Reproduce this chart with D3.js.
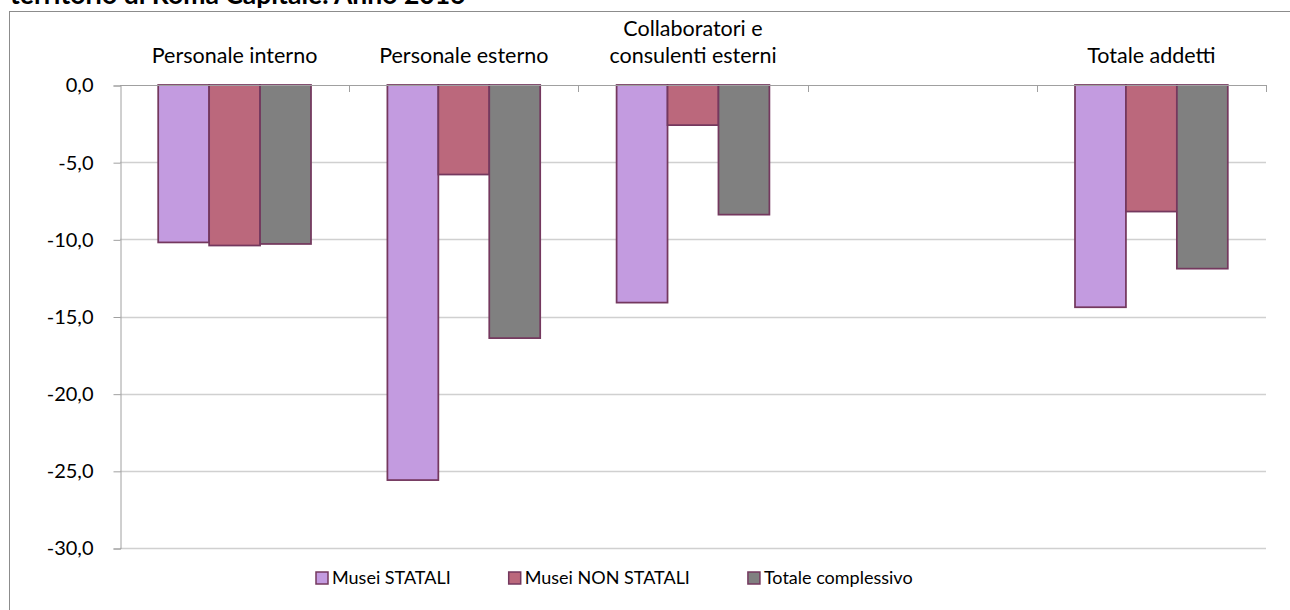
<!DOCTYPE html>
<html>
<head>
<meta charset="utf-8">
<script src="https://cdn.jsdelivr.net/npm/d3@7"></script>
<style>
  body { margin: 0; background: #fff; }
  svg { display: block; font-family: Lato, "Open Sans", sans-serif; }
</style>
</head>
<body>
<svg width="1290" height="610"></svg>
<script>
// dati (variazione % addetti)
var categories = ["Personale interno", "Personale esterno", "Collaboratori e\nconsulenti esterni", "", "Totale addetti"];
var series = ["Musei STATALI", "Musei NON STATALI", "Totale complessivo"];
var statali = [-10.2, -25.6, -14.1, null, -14.4];
var nonStatali = [-10.4, -5.8, -2.6, null, -8.2];
var totale = [-10.3, -16.4, -8.4, null, -11.9];
var yTicks = [0, -5, -10, -15, -20, -25, -30];

var colors = ["#c39be0", "#bb687c", "#808080"];
var strokeCol = "#74385e";
var values = [statali, nonStatali, totale];

var svg = d3.select("svg");

// titolo (tagliato in alto come nell'originale)
svg.append("text")
  .attr("x", 10).attr("y", 4)
  .attr("font-size", 26.5).attr("font-weight", "bold")
  .attr("fill", "#000")
  .text("territorio di Roma Capitale. Anno 2016");

// cornice del grafico
svg.append("rect")
  .attr("x", 9.5).attr("y", 11.5)
  .attr("width", 1300).attr("height", 700)
  .attr("fill", "none").attr("stroke", "#8c8c8c");

var pLeft = 120, pRight = 1266, pTop = 85, pBottom = 548;

var x0 = d3.scaleBand()
  .domain(d3.range(categories.length))
  .range([pLeft, pRight])
  .paddingInner(1 / 3)
  .paddingOuter(1 / 6);

var x1 = d3.scaleBand()
  .domain(d3.range(series.length))
  .range([0, x0.bandwidth()]);

var y = d3.scaleLinear().domain([-30, 0]).range([pBottom, pTop]);

var it = d3.formatLocale({decimal: ",", thousands: ".", grouping: [3], currency: ["", "€"], minus: "-"});
var fmt = it.format(".1f");

// griglia
svg.append("g")
  .selectAll("line")
  .data(yTicks.filter(d => d !== 0))
  .enter()
  .append("line")
    .attr("x1", pLeft).attr("x2", pRight)
    .attr("y1", d => Math.round(y(d)) + 0.5)
    .attr("y2", d => Math.round(y(d)) + 0.5)
    .attr("stroke", "#d0d0d0")
    .attr("stroke-width", 1.5);

// asse y
var yAxis = svg.append("g")
  .attr("transform", "translate(" + (pLeft + 0.5) + ",0.5)")
  .call(d3.axisLeft(y).tickValues(yTicks).tickFormat(fmt).tickSize(7).tickPadding(20));
yAxis.select(".domain").attr("stroke", "#a0a0a0");
yAxis.selectAll(".tick line").attr("stroke", "#a0a0a0");
yAxis.selectAll(".tick text")
  .attr("font-size", 20)
  .attr("font-family", "Lato, sans-serif")
  .attr("fill", "#000");

// barre
var groups = svg.append("g")
  .selectAll("g")
  .data(categories.map((c, i) => i))
  .enter()
  .append("g")
    .attr("transform", i => "translate(" + x0(i) + ",0)");

groups.selectAll("rect")
  .data(i => values.map((s, k) => ({k: k, v: s[i]})).filter(d => d.v != null))
  .enter()
  .append("rect")
    .attr("x", d => x1(d.k))
    .attr("y", y(0))
    .attr("width", x1.bandwidth())
    .attr("height", d => y(d.v) - y(0))
    .attr("fill", d => colors[d.k])
    .attr("stroke", strokeCol)
    .attr("stroke-width", 1.75);

// asse categorie (sullo zero)
var step = x0.step();
var catTicks = d3.range(categories.length + 1).map(i => pLeft + i * step);
svg.append("line")
  .attr("x1", pLeft).attr("x2", pRight)
  .attr("y1", y(0) + 0.5).attr("y2", y(0) + 0.5)
  .attr("stroke", "#a0a0a0");
svg.append("g")
  .selectAll("line")
  .data(catTicks.slice(1))
  .enter()
  .append("line")
    .attr("x1", d => Math.round(d) + 0.5).attr("x2", d => Math.round(d) + 0.5)
    .attr("y1", y(0)).attr("y2", y(0) + 7)
    .attr("stroke", "#a0a0a0");

// etichette categorie sopra il grafico
svg.append("g")
  .selectAll("text")
  .data(categories)
  .enter()
  .append("text")
    .attr("text-anchor", "middle")
    .attr("font-size", 21.5)
    .attr("fill", "#000")
    .each(function(d, i) {
      var lines = d.split("\n");
      var cx = x0(i) + x0.bandwidth() / 2;
      d3.select(this).selectAll("tspan")
        .data(lines)
        .enter()
        .append("tspan")
          .attr("x", cx)
          .attr("y", (l, j) => 63 - (lines.length - 1 - j) * 27.5)
          .text(l => l);
    });

// legenda
var legend = svg.append("g");
var items = legend.selectAll("g")
  .data(series)
  .enter()
  .append("g");
items.append("rect")
  .attr("width", 12).attr("height", 12)
  .attr("y", 572)
  .attr("fill", (d, i) => colors[i])
  .attr("stroke", strokeCol)
  .attr("stroke-width", 1.5);
items.append("text")
  .attr("x", 16).attr("y", 584)
  .attr("font-size", 18)
  .attr("fill", "#000")
  .text(d => d);

var pos = 0, offsets = [];
items.each(function() {
  offsets.push(pos);
  pos += 16 + this.querySelector("text").getComputedTextLength() + 58;
});
var start = 316;
items.attr("transform", (d, i) => "translate(" + (start + offsets[i]) + ",0)");
</script>
</body>
</html>
